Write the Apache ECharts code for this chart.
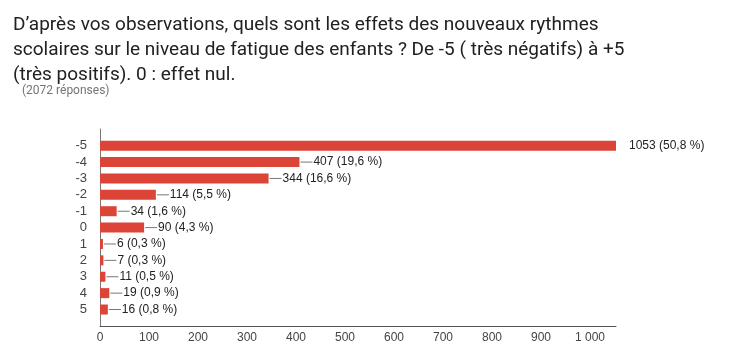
<!DOCTYPE html>
<html><head><meta charset="utf-8">
<script src="https://cdn.jsdelivr.net/npm/echarts@6/dist/echarts.min.js"></script>
<style>html,body{margin:0;padding:0;background:#fff}#c{width:729px;height:361px}</style>
</head><body><div id="c"></div>
<script>
const titleLines = [
  "D’après vos observations, quels sont les effets des nouveaux rythmes",
  "scolaires sur le niveau de fatigue des enfants ? De -5 ( très négatifs) à +5",
  "(très positifs). 0 : effet nul."
];
const subtitle = "(2072 réponses)";
const categories = ["-5","-4","-3","-2","-1","0","1","2","3","4","5"];
const counts = [1053, 407, 344, 114, 34, 90, 6, 7, 11, 19, 16];
const percents = ["50,8","19,6","16,6","5,5","1,6","4,3","0,3","0,3","0,5","0,9","0,8"];
const xMax = 1053;
const xInterval = 100;

const font = 'Roboto, Arial, sans-serif';
const labelFont = 'Arial, "Liberation Sans", sans-serif';
const data = counts.map((v, i) => {
  const item = {value: v};
  if (i === 0) {
    item.label = {distance: 12, formatter: () => '{t|' + v + ' (' + percents[i] + ' %)}'};
  }
  return item;
});

const chart = echarts.init(document.getElementById('c'));
chart.setOption({
  animation: false,
  title: [
    {text: titleLines.join('\n'), left: 8, top: 8,
     textStyle: {fontFamily: font, fontSize: 19, fontWeight: 'normal', color: '#212121', lineHeight: 25}},
    {text: subtitle, left: 17, top: 80,
     textStyle: {fontFamily: font, fontSize: 12, fontWeight: 'normal', color: '#757575'}}
  ],
  grid: [
    {left: 100, right: 113, top: 137.5, bottom: 43.3},
    {left: 100, right: 113, top: 129, bottom: 35}
  ],
  xAxis: [
    {gridIndex: 0, type: 'value', min: 0, max: xMax, interval: xInterval, show: false},
    {gridIndex: 1, type: 'value', min: 0, max: xMax, interval: xInterval,
     axisLine: {show: true, lineStyle: {color: '#555', width: 1}},
     axisTick: {show: false}, splitLine: {show: false},
     axisLabel: {showMaxLabel: false, margin: 6, color: '#444', fontFamily: labelFont, fontSize: 12,
       formatter: v => String(v).replace(/\B(?=(\d{3})+(?!\d))/g, ' ')}}
  ],
  yAxis: [
    {gridIndex: 0, type: 'category', data: categories, inverse: true,
     axisLine: {show: false}, axisTick: {show: false},
     axisLabel: {interval: 0, margin: 13, color: '#444', fontFamily: labelFont, fontSize: 13}},
    {gridIndex: 1, type: 'value', min: 0, max: 1,
     axisLine: {show: true, lineStyle: {color: '#777', width: 1}},
     axisTick: {show: false}, axisLabel: {show: false}, splitLine: {show: false}}
  ],
  series: [{
    type: 'bar', xAxisIndex: 0, yAxisIndex: 0, data: data, barWidth: 10,
    itemStyle: {color: '#db4437'},
    label: {
      show: true, position: 'right', distance: 1,
      formatter: p => '{l|}{t|' + p.value + ' (' + percents[p.dataIndex] + ' %)}',
      rich: {
        l: {width: 12, height: 1, backgroundColor: '#777', verticalAlign: 'middle'},
        t: {fontFamily: labelFont, fontSize: 12, color: '#222', padding: [0, 0, 0, 1], verticalAlign: 'middle'}
      }
    }
  }]
});
</script></body></html>
